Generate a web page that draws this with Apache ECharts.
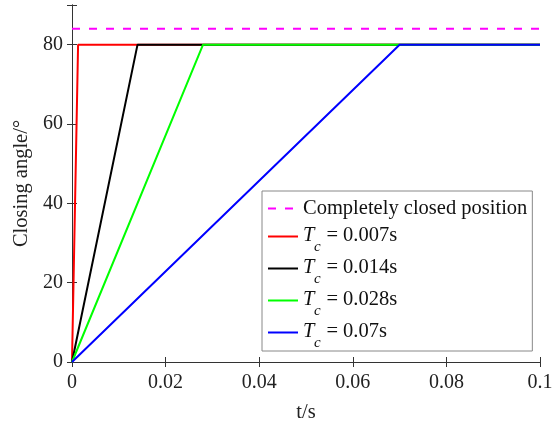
<!DOCTYPE html>
<html>
<head>
<meta charset="utf-8">
<script src="https://cdn.jsdelivr.net/npm/echarts@6/dist/echarts.min.js"></script>
<style>
  html, body { margin: 0; padding: 0; background: #fff; }
  #chart { width: 552px; height: 426px; }
</style>
</head>
<body>
<div id="chart"></div>
<script>
// time points (s) where each curve reaches full close
const tEnd = 0.1
const tRed = [0, 0.0013, tEnd]
const tBlack = [0, 0.014, tEnd]
const tGreen = [0, 0.028, tEnd]
const tBlue = [0, 0.07, tEnd]
const angle = [0, 80, 80]
const closedPos = [84, 84]
const closedT = [0, tEnd]
const names = ['Completely closed position', 'T = 0.007s', 'T = 0.014s', 'T = 0.028s', 'T = 0.07s']

const font = 'Liberation Serif'
const axisColor = '#333'

function pairs (xs, ys) {
  let out = []
  for (let i = 0; i < xs.length; i++) {
    out.push([xs[i], ys[i]])
  }
  return out
}

function lineSeries (name, xs, ys, color, type) {
  return {
    name: name,
    type: 'line',
    data: pairs(xs, ys),
    symbol: 'none',
    animation: false,
    lineStyle: { color: color, width: 2, type: type || 'solid' },
    itemStyle: { color: color }
  }
}

const chart = echarts.init(document.getElementById('chart'))
const option = {
  backgroundColor: '#fff',
  textStyle: { fontFamily: font },
  grid: { left: 72, right: 12, top: 5, bottom: 64, outerBoundsMode: 'none' },
  legend: {
    orient: 'vertical',
    left: 262,
    top: 191,
    padding: [3, 5, 0, 5],
    itemGap: 2,
    itemWidth: 30,
    itemHeight: 14,
    borderColor: '#888',
    borderWidth: 1,
    borderRadius: 0,
    backgroundColor: '#fff',
    itemStyle: { opacity: 0 },
    data: names,
    formatter: function (name) {
      if (name.charAt(0) === 'T') {
        // T with subscript c on a short second line
        return '{t|T}{n|' + name.substr(2) + '}\n{c|c}'
      }
      return '{p|' + name + '}'
    },
    textStyle: {
      fontFamily: font,
      fontSize: 20.5,
      color: '#111',
      rich: {
        p: { fontFamily: font, fontSize: 20.5, lineHeight: 22, padding: [4, 0, 4, 0], color: '#111' },
        t: { fontFamily: font, fontSize: 20.5, fontStyle: 'italic', lineHeight: 22, color: '#111' },
        n: { fontFamily: font, fontSize: 20.5, lineHeight: 22, padding: [0, 0, 0, 12], color: '#111' },
        c: { fontFamily: font, fontSize: 15, fontStyle: 'italic', lineHeight: 2, padding: [0, 0, 0, 11], color: '#111' }
      }
    }
  },
  xAxis: [
    {
      type: 'value',
      min: 0,
      max: 0.1,
      interval: 0.02,
      name: 't/s',
      nameLocation: 'middle',
      nameGap: 40,
      nameTextStyle: { fontFamily: font, fontSize: 20.5, color: '#222' },
      axisLine: { show: true, lineStyle: { color: '#999' } },
      axisTick: { show: true, inside: true, length: 5, lineStyle: { color: axisColor } },
      axisLabel: {
        fontFamily: font,
        fontSize: 20,
        color: '#222',
        margin: 11,
        formatter: function (v) { return String(+v.toFixed(2)) }
      },
      splitLine: { show: false }
    },
    {
      type: 'value',
      position: 'top',
      min: 0,
      max: 0.1,
      interval: 0.02,
      axisLine: { show: true, lineStyle: { color: axisColor } },
      axisTick: { show: true, inside: true, length: 5, lineStyle: { color: axisColor } },
      axisLabel: { show: false },
      splitLine: { show: false }
    }
  ],
  yAxis: [
    {
      type: 'value',
      min: 0,
      max: 90,
      interval: 20,
      name: 'Closing angle/°',
      nameLocation: 'middle',
      nameGap: 37,
      nameTextStyle: { fontFamily: font, fontSize: 20.5, color: '#222' },
      axisLine: { show: true, lineStyle: { color: axisColor } },
      axisTick: { show: true, inside: true, length: 5, lineStyle: { color: axisColor } },
      axisLabel: {
        fontFamily: font,
        fontSize: 20,
        color: '#222',
        margin: 9,
        formatter: function (v) { return v % 20 === 0 ? String(v) : '' }
      },
      splitLine: { show: false }
    },
    {
      type: 'value',
      position: 'right',
      min: 0,
      max: 90,
      interval: 20,
      axisLine: { show: true, lineStyle: { color: axisColor } },
      axisTick: { show: true, inside: true, length: 5, lineStyle: { color: axisColor } },
      axisLabel: { show: false },
      splitLine: { show: false }
    }
  ],
  series: [
    lineSeries(names[0], closedT, closedPos, '#ff00ff', [8, 9]),
    lineSeries(names[1], tRed, angle, '#ff0000'),
    lineSeries(names[2], tBlack, angle, '#000000'),
    lineSeries(names[3], tGreen, angle, '#00ff00'),
    lineSeries(names[4], tBlue, angle, '#0000ff')
  ]
}
chart.setOption(option)
</script>
</body>
</html>
